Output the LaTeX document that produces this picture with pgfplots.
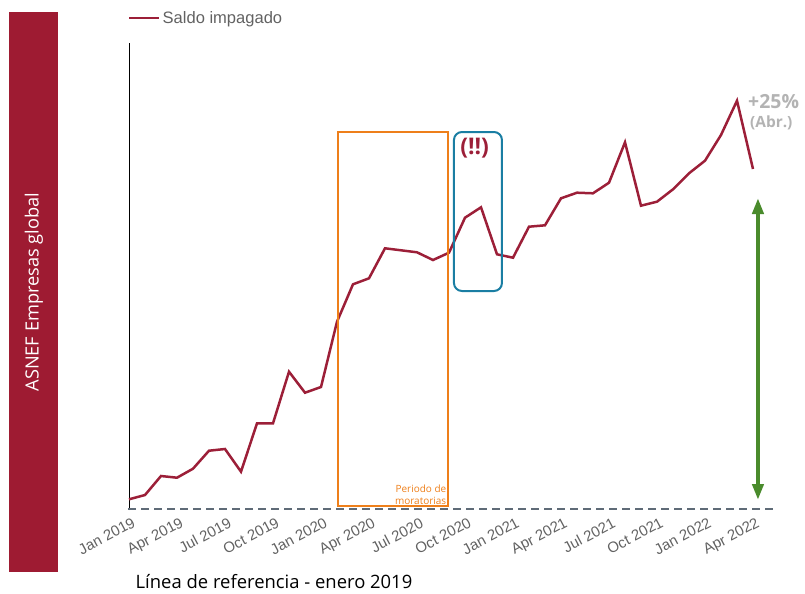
\documentclass[border=0pt]{standalone}
\usepackage{pgfplots}
\pgfplotsset{compat=1.18}
\usepackage{fontspec}
\setmainfont{Open Sans}
\newfontfamily\robo{Liberation Sans}
\usetikzlibrary{arrows.meta}
\definecolor{maroon}{HTML}{9C1F38}
\definecolor{band}{HTML}{9E1B32}
\definecolor{orng}{HTML}{EE7F1A}
\definecolor{blu}{HTML}{1A7EA3}
\definecolor{grn}{HTML}{4A8B2C}
\definecolor{dashc}{HTML}{5F6B77}
\definecolor{tickc}{HTML}{626262}
\definecolor{lgray}{HTML}{B3B3B3}
\begin{document}
\begin{tikzpicture}
\useasboundingbox (0,0) rectangle (805bp,-594bp);
\fill[band] (9bp,-12bp) rectangle (58bp,-572bp);
\node[rotate=90, text=white, font=\fontsize{18.3}{20}\selectfont] at (34bp,-292bp) {ASNEF Empresas global};
\node[font=\fontsize{18.5}{20}\selectfont] at (274bp,-582bp) {Línea de referencia - enero 2019};
\begin{axis}[
  at={(129bp,-510bp)}, anchor=south west,
  scale only axis, width=646.4bp, height=467bp,
  xmin=0, xmax=40.4, ymin=-1, ymax=466,
  axis lines=left,
  x axis line style={draw=none},
  y axis line style={-, black, line width=1bp},
  xtick={0,3,...,39},
  xticklabels={Jan 2019, Apr 2019, Jul 2019, Oct 2019, Jan 2020, Apr 2020, Jul 2020, Oct 2020, Jan 2021, Apr 2021, Jul 2021, Oct 2021, Jan 2022, Apr 2022},
  ytick=\empty,
  major tick length=0,
  xticklabel style={rotate=28, anchor=north east, font=\robo\fontsize{15}{17}\selectfont, text=tickc, inner sep=1bp, yshift=-6bp},
  legend style={at={(0,1)}, anchor=south west, draw=none, fill=none, font=\robo\fontsize{16.6}{18}\selectfont, text=tickc, xshift=-4bp, yshift=14bp},
  legend image code/.code={\draw[#1] (0bp,0bp) -- (30bp,0bp);},
  clip=false,
]
\addplot[dashc, line width=2bp, dash pattern=on 8bp off 5bp, forget plot] coordinates {(-0.06,0) (40.4,0)};
\addplot[maroon, line width=2.5bp] table {
x y
0 9.7
1 14
2 33
3 31.3
4 40.3
5 58.3
6 60
7 37.3
8 85.7
9 85.7
10 137.3
11 116.3
12 122
13 187.3
14 224.7
15 230.7
16 260.7
17 258.7
18 256.7
19 249
20 256.3
21 291.3
22 301.7
23 254.7
24 251.3
25 282.3
26 283.7
27 310.7
28 316.3
29 315.7
30 326.3
31 366.7
32 303.3
33 307.3
34 319.7
35 335.7
36 348.3
37 374
38 408.3
39 340
};
\addlegendentry{Saldo impagado}
\draw[orng, line width=2bp] (axis cs:13.06,3) rectangle (axis cs:19.94,377);
\node[anchor=south east, align=right, text=orng, font=\fontsize{10}{11.5}\selectfont, inner sep=1bp] at (axis cs:19.9,3.5) {Periodo de\\moratorias};
\draw[blu, line width=2bp, rounded corners=8bp] (axis cs:20.31,218) rectangle (axis cs:23.31,377);
\node[text=maroon, font=\bfseries\fontsize{23}{25}\selectfont] at (axis cs:21.6,361) {(!!)};
\node[anchor=west, text=lgray, font=\bfseries\fontsize{19.5}{21}\selectfont, inner sep=0] at (axis cs:38.69,407) {+25\%};
\node[anchor=west, text=lgray, font=\bfseries\fontsize{15.5}{17}\selectfont, inner sep=0] at (axis cs:38.81,386) {(Abr.)};
\draw[grn, line width=4bp, {Triangle[width=11bp,length=16bp]}-{Triangle[width=11bp,length=16bp]}] (axis cs:39.31,9) -- (axis cs:39.31,311);
\end{axis}
\end{tikzpicture}
\end{document}
